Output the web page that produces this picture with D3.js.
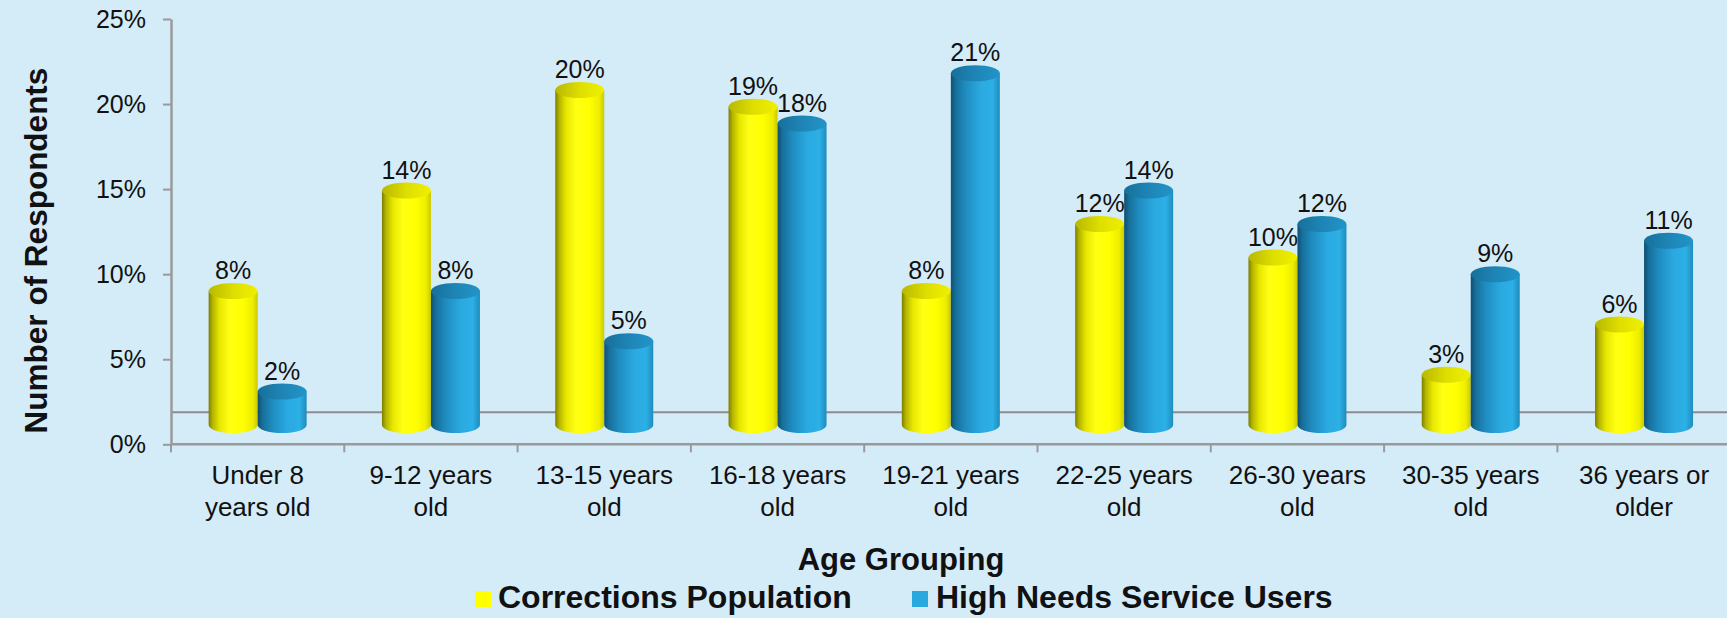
<!DOCTYPE html>
<html>
<head>
<meta charset="utf-8">
<script src="https://cdn.jsdelivr.net/npm/d3@7"></script>
<style>
  html, body { margin: 0; padding: 0; background: #D4EBF8; }
  svg { display: block; }
  text { font-family: "Liberation Sans", Arial, sans-serif; fill: #111; }
</style>
</head>
<body>
<svg id="chart" width="1727" height="618"></svg>
<script>
// ---- Data ----
const categories = ["Under 8 years old", "9-12 years old", "13-15 years old", "16-18 years old",
  "19-21 years old", "22-25 years old", "26-30 years old", "30-35 years old", "36 years or older"];
const categoryLines = [["Under 8", "years old"], ["9-12 years", "old"], ["13-15 years", "old"],
  ["16-18 years", "old"], ["19-21 years", "old"], ["22-25 years", "old"], ["26-30 years", "old"],
  ["30-35 years", "old"], ["36 years or", "older"]];
const seriesNames = ["Corrections Population", "High Needs Service Users"];
const corrections = [8, 14, 20, 19, 8, 12, 10, 3, 6];
const highNeeds = [2, 8, 5, 18, 21, 14, 12, 9, 11];
const yTicks = [0, 5, 10, 15, 20, 25];
const xTitle = "Age Grouping";
const yTitle = "Number of Respondents";

// ---- Layout ----
const W = 1727, H = 618;
const svg = d3.select("#chart");
const axisX = 171, axisTop = 19, axisBottom = 444.3;
const bandW = 173.3;
const depth = 19.3;          // 3D depth offset of bar base above front axis
const barW = 49;
const ry = 8;

const y = d3.scaleLinear().domain([0, 25]).range([axisBottom, axisTop]);
const yBar = d3.scaleLinear().domain([0, 25]).range([axisBottom - depth, axisBottom - depth - 25 * 16.75]);
const x = d3.scaleBand().domain(categories).range([axisX, axisX + bandW * categories.length]).padding(0);
const xSub = d3.scaleBand().domain(seriesNames)
  .range([x.bandwidth() / 2 - barW, x.bandwidth() / 2 + barW]).padding(0);

// ---- Gradients ----
const defs = svg.append("defs");
function grad(id, stops, vertical) {
  const g = defs.append("linearGradient").attr("id", id)
    .attr("x1", "0").attr("y1", "0").attr("x2", vertical ? "0" : "1").attr("y2", vertical ? "1" : "0");
  stops.forEach(([o, c]) => g.append("stop").attr("offset", o).attr("stop-color", c));
}
grad("gY", [[0, "#7d7d00"], [0.08, "#b4b400"], [0.22, "#e6e600"], [0.42, "#ffff14"], [0.7, "#ffff00"], [0.9, "#eded00"], [1, "#c9c900"]]);
grad("gB", [[0, "#0f4f70"], [0.1, "#176f9a"], [0.3, "#1f8cc0"], [0.6, "#29a9e0"], [0.85, "#2cb0e6"], [1, "#1f8cbc"]]);
grad("gYt", [[0, "#b8b800"], [0.5, "#dede00"], [1, "#f0f000"]]);
grad("gBt", [[0, "#176f9a"], [0.5, "#1e85b6"], [1, "#2294c8"]]);
const fills = { "Corrections Population": ["url(#gY)", "url(#gYt)"], "High Needs Service Users": ["url(#gB)", "url(#gBt)"] };
const legendColors = { "Corrections Population": "#FFFF00", "High Needs Service Users": "#29A8E0" };

// ---- Back floor line ----
svg.append("line").attr("x1", axisX).attr("x2", W).attr("y1", 412.3).attr("y2", 412.3)
  .attr("stroke", "#8c8c8c").attr("stroke-width", 2);

// ---- Y axis ----
const yAxis = svg.append("g").attr("transform", `translate(${axisX},0)`)
  .call(d3.axisLeft(y).tickValues(yTicks).tickFormat(d => d + "%").tickSize(8).tickSizeOuter(0).tickPadding(17));
yAxis.select(".domain").attr("stroke", "#9a9a9a").attr("stroke-width", 2.5);
yAxis.selectAll(".tick line").attr("stroke", "#9a9a9a").attr("stroke-width", 2);
yAxis.selectAll(".tick text").attr("font-size", 25).attr("fill", "#111")
  .attr("font-family", "Liberation Sans, Arial, sans-serif");

// ---- X axis line and boundary ticks ----
svg.append("line").attr("x1", axisX).attr("x2", W).attr("y1", axisBottom).attr("y2", axisBottom)
  .attr("stroke", "#9a9a9a").attr("stroke-width", 2.5);
svg.append("g").selectAll("line").data(categories).join("line")
  .attr("x1", d => x(d)).attr("x2", d => x(d))
  .attr("y1", axisBottom).attr("y2", axisBottom + 8)
  .attr("stroke", "#9a9a9a").attr("stroke-width", 2);

// ---- X labels ----
const xl = svg.append("g").selectAll("text").data(categories).join("text")
  .attr("text-anchor", "middle").attr("font-size", 26)
  .attr("transform", d => `translate(${x(d) + x.bandwidth() / 2},483.5)`);
xl.each(function (d, i) {
  const t = d3.select(this);
  categoryLines[i].forEach((ln, j) => t.append("tspan").attr("x", 0).attr("y", j * 32).text(ln));
});

// ---- Bars (cylinders) ----
const rows = [];
categories.forEach((c, i) => {
  rows.push({ cat: c, s: seriesNames[0], v: corrections[i] });
  rows.push({ cat: c, s: seriesNames[1], v: highNeeds[i] });
});
const bars = svg.append("g").selectAll("g").data(rows).join("g");
bars.append("path")
  .attr("d", d => {
    const x0 = x(d.cat) + xSub(d.s), x1 = x0 + barW;
    const yt = yBar(d.v), yb = yBar(0);
    return `M${x0},${yt} L${x0},${yb} A${barW / 2},${ry} 0 0 0 ${x1},${yb} L${x1},${yt} Z`;
  })
  .attr("fill", d => fills[d.s][0]);
bars.append("ellipse")
  .attr("cx", d => x(d.cat) + xSub(d.s) + barW / 2)
  .attr("cy", d => yBar(d.v))
  .attr("rx", barW / 2).attr("ry", ry)
  .attr("fill", d => fills[d.s][1]);
bars.append("text")
  .attr("x", d => x(d.cat) + xSub(d.s) + barW / 2)
  .attr("y", d => yBar(d.v) - ry - 4)
  .attr("text-anchor", "middle").attr("font-size", 25)
  .text(d => d.v + "%");

// ---- Axis titles ----
svg.append("text").attr("text-anchor", "middle").attr("font-size", 31.5).attr("font-weight", "bold")
  .attr("transform", `translate(47,250.5) rotate(-90)`).text(yTitle);
svg.append("text").attr("x", 901).attr("y", 569.5).attr("text-anchor", "middle")
  .attr("font-size", 31).attr("font-weight", "bold").text(xTitle);

// ---- Legend ----
const legendPos = [{ sx: 475, tx: 498 }, { sx: 912, tx: 936 }];
const lg = svg.append("g").selectAll("g").data(seriesNames).join("g");
lg.append("rect").attr("x", (d, i) => legendPos[i].sx).attr("y", 591).attr("width", 16).attr("height", 16)
  .attr("fill", d => legendColors[d]);
lg.append("text").attr("x", (d, i) => legendPos[i].tx).attr("y", 607.5)
  .attr("font-size", 32).attr("font-weight", "bold").text(d => d);
</script>
</body>
</html>
